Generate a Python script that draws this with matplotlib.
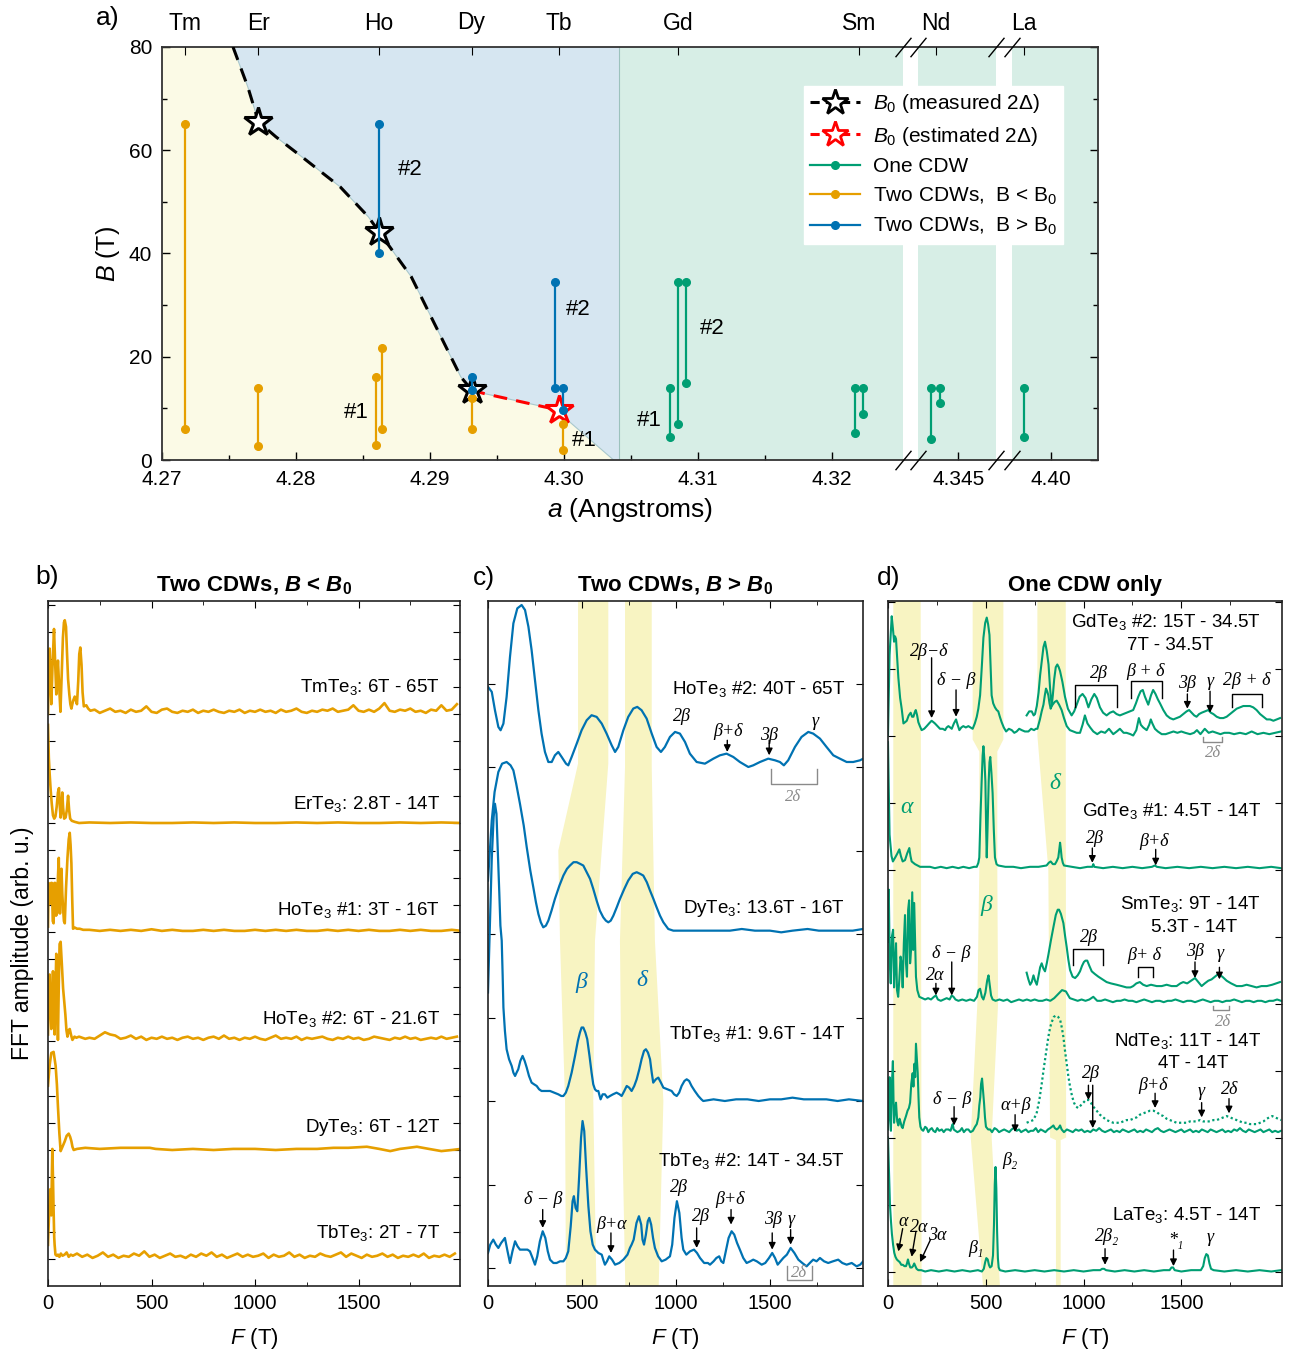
import numpy as np
import matplotlib.pyplot as plt
import matplotlib.transforms as mtransforms
from matplotlib.lines import Line2D
from matplotlib.patches import Polygon

plt.rcParams['font.family'] = ['Liberation Sans', 'DejaVu Sans']
plt.rcParams['mathtext.fontset'] = 'custom'
plt.rcParams['mathtext.rm'] = 'Liberation Sans'
plt.rcParams['mathtext.it'] = 'Liberation Sans:italic'
plt.rcParams['mathtext.bf'] = 'Liberation Sans:bold'
plt.rcParams['mathtext.bfit'] = 'Liberation Sans:italic:bold'

W, H = 1294, 1357
ORANGE = "#E69F00"
BLUE = "#0072B2"
GREEN = "#009E73"
BAND = "#F8F4C2"
YEL_BG = "#FBFAE6"
BLUE_BG = "#D6E6F1"
GREEN_BG = "#D7EEE6"
GRAY = "#8a8a8a"
GREEK = dict(family=['Liberation Serif', 'DejaVu Serif'], style='italic')

# ---------------------------------------------------------------- panel a data
A_BREAK = [4.17, 4.27, 4.3253, 4.342, 4.3478, 4.3971, 4.4035, 4.5035]
U_BREAK = [-10.0, 0.0, 5.53, 5.642, 6.224, 6.343, 6.985, 16.985]
GAPS = [(4.3253, 4.342), (4.3478, 4.3971)]

BOUND_A = [4.2753, 4.2758, 4.2764, 4.2772, 4.2785, 4.2806, 4.2833, 4.2854, 4.2862, 4.2868,
           4.2886, 4.2902, 4.2923, 4.2931, 4.2940, 4.2985, 4.2996, 4.3001, 4.3037]
BOUND_B = [80, 76.5, 72.3, 65.5, 62.6, 58.4, 52.9, 47.1, 44.2, 42.0,
           35.5, 27.1, 16.1, 13.6, 12.9, 10.3, 9.7, 8.1, 0]
ONE_CDW_EDGE = 4.3041

MEAS_STAR_A = [4.2772, 4.2862, 4.2931]
MEAS_STAR_B = [65.5, 44.2, 13.6]
EST_STAR_A = [4.2996]
EST_STAR_B = [9.7]

ORANGE_A = [4.2717, 4.2772, 4.2860, 4.2864, 4.2931, 4.2999]
ORANGE_LO = [6, 2.8, 3, 6, 6, 2]
ORANGE_HI = [65, 14, 16, 21.6, 12, 7]
BLUE_A = [4.2862, 4.2931, 4.2993, 4.2999]
BLUE_LO = [40, 13.6, 14, 9.6]
BLUE_HI = [65, 16, 34.5, 14]
GREEN_A = [4.3079, 4.3085, 4.3091, 4.3217, 4.3223, 4.3430, 4.3436, 4.3980]
GREEN_LO = [4.5, 7, 15, 5.3, 9, 4, 11, 4.5]
GREEN_HI = [14, 34.5, 34.5, 14, 14, 14, 14, 14]

SAMPLE_TXT = ["#2", "#1", "#2", "#1", "#2", "#1"]
SAMPLE_A = [4.2885, 4.2845, 4.3011, 4.3015, 4.3111, 4.3064]
SAMPLE_B = [56.2, 9.2, 29.1, 3.7, 25.5, 7.7]

ELEM_NAMES = ["Tm", "Er", "Ho", "Dy", "Tb", "Gd", "Sm", "Nd", "La"]
ELEM_A = [4.27175, 4.2772, 4.2862, 4.2931, 4.2996, 4.3085, 4.3220, 4.3433, 4.3980]
XTICKS_A = [4.27, 4.28, 4.29, 4.30, 4.31, 4.32, 4.345, 4.40]
XTICKLABELS_A = ["4.27", "4.28", "4.29", "4.30", "4.31", "4.32", "4.345", "4.40"]
XMINOR_A = [4.275, 4.285, 4.295, 4.305, 4.315]


def tail(start, step, vals):
    return [(start + step * i, v) for i, v in enumerate(vals)]


# ---------------------------------------------------------------- panel b data
TM_B = [(0, 0.0), (3, 0.30), (8, 0.60), (12, 0.35), (16, 0.09), (22, 0.45), (29, 0.78), (34, 0.50),
        (40, 0.18), (44, 0.35), (48, 0.49), (54, 0.25), (60, 0.02), (66, 0.35), (72, 0.70), (77, 0.84),
        (81, 0.86), (87, 0.80), (92, 0.55), (97, 0.32), (103, 0.18), (108, 0.09), (113, 0.05), (121, 0.12),
        (129, 0.16), (135, 0.12), (140, 0.09), (146, 0.30), (151, 0.55), (156, 0.61), (162, 0.45),
        (167, 0.20), (173, 0.07), (185, 0.08), (194, 0.05), (205, 0.03)] + tail(225, 25, [
    0.04, 0.01, 0.03, 0.05, 0.02, 0.03, 0.01, 0.04, 0.02, 0.03,
    0.07, 0.02, 0.01, 0.04, 0.05, 0.02, 0.01, 0.03, 0.02, 0.04,
    0.01, 0.03, 0.02, 0.04, 0.02, 0.01, 0.03, 0.02, 0.04, 0.01,
    0.03, 0.02, 0.04, 0.02, 0.03, 0.01, 0.04, 0.02, 0.03, 0.05,
    0.02, 0.01, 0.03, 0.02, 0.04, 0.03, 0.05, 0.02, 0.03, 0.04,
    0.08, 0.03, 0.02, 0.04, 0.02, 0.05, 0.10, 0.03, 0.02, 0.04,
    0.03, 0.05, 0.02, 0.03, 0.01, 0.04, 0.03, 0.08, 0.03, 0.04, 0.09])
ER_B = [(0, 0.90), (4, 0.60), (8, 0.45), (13, 0.30), (18, 0.18), (24, 0.07), (30, 0.04), (36, 0.06),
        (42, 0.15), (48, 0.28), (53, 0.32), (57, 0.15), (61, 0.05), (65, 0.12), (69, 0.28), (73, 0.14),
        (78, 0.04), (85, 0.05), (91, 0.12), (97, 0.25), (102, 0.12), (107, 0.04), (115, 0.02),
        (130, 0.01), (150, 0.0)] + tail(200, 100, [
    0.005, 0.0, 0.005, 0.0, 0.0, 0.005, 0.0, 0.005, 0.0, 0.0,
    0.005, 0.0, 0.005, 0.0, 0.0, 0.005, 0.0, 0.005, 0.0])
HO1_B = [(0, 0.05), (3, 0.45), (7, 0.30), (11, 0.26), (15, 0.45), (19, 0.45), (23, 0.10), (27, 0.08),
         (31, 0.45), (35, 0.45), (39, 0.15), (44, 0.17), (48, 0.50), (52, 0.68), (55, 0.30), (58, 0.17),
         (62, 0.45), (65, 0.58), (69, 0.35), (73, 0.21), (77, 0.10), (81, 0.08), (87, 0.40), (94, 0.68),
         (100, 0.85), (105, 0.91), (109, 0.80), (113, 0.63), (117, 0.30), (121, 0.03), (130, 0.04),
         (140, 0.03), (153, 0.03), (170, 0.02)] + tail(200, 50, [
    0.02, 0.01, 0.02, 0.01, 0.02, 0.01, 0.025, 0.01, 0.02, 0.01,
    0.01, 0.02, 0.01, 0.02, 0.01, 0.01, 0.02, 0.01, 0.02, 0.01,
    0.02, 0.01, 0.01, 0.02, 0.01, 0.02, 0.01, 0.02, 0.01, 0.01,
    0.02, 0.01, 0.02, 0.01, 0.01, 0.02, 0.01])
HO2_B = [(0, 0.06), (4, 0.40), (8, 0.61), (12, 0.35), (16, 0.11), (20, 0.40), (24, 0.64), (28, 0.35),
         (32, 0.06), (36, 0.45), (40, 0.80), (44, 0.40), (48, 0.01), (52, 0.50), (56, 0.89), (61, 0.91),
         (67, 0.70), (73, 0.48), (79, 0.35), (84, 0.24), (89, 0.10), (94, 0.04), (100, 0.10), (105, 0.11),
         (112, 0.05), (118, 0.01), (128, 0.04), (137, 0.03), (150, 0.04), (165, 0.03), (180, 0.02)] + tail(200, 25, [
    0.03, 0.02, 0.05, 0.08, 0.06, 0.05, 0.02, 0.03, 0.05, 0.02,
    0.04, 0.01, 0.03, 0.02, 0.04, 0.02, 0.03, 0.01, 0.03, 0.04,
    0.02, 0.03, 0.01, 0.03, 0.04, 0.02, 0.05, 0.02, 0.03, 0.01,
    0.03, 0.02, 0.04, 0.02, 0.01, 0.03, 0.05, 0.02, 0.03, 0.02,
    0.04, 0.01, 0.03, 0.02, 0.03, 0.04, 0.02, 0.01, 0.03, 0.02,
    0.04, 0.02, 0.03, 0.01, 0.02, 0.04, 0.03, 0.02, 0.01, 0.03,
    0.02, 0.04, 0.02, 0.03, 0.01, 0.02, 0.03, 0.02, 0.04, 0.02,
    0.03, 0.04])
DY_B = [(0, 0.59), (8, 0.78), (16, 0.89), (27, 0.90), (37, 0.77), (43, 0.60), (48, 0.40), (55, 0.15),
        (61, -0.01), (70, 0.03), (81, 0.08), (90, 0.13), (100, 0.15), (107, 0.12), (113, 0.08),
        (118, 0.03), (124, 0.0), (140, 0.01), (180, 0.02), (250, 0.01), (350, 0.02), (492, 0.02),
        (520, 0.01), (600, 0.0), (700, 0.01), (800, 0.0), (895, 0.01), (1000, 0.01), (1100, 0.0),
        (1200, 0.01), (1300, 0.01), (1379, 0.02), (1450, 0.02), (1540, 0.03), (1600, 0.01),
        (1653, -0.01), (1700, 0.01), (1782, 0.03), (1840, 0.01), (1900, -0.01), (1950, 0.0), (1995, 0.01)]
TB_B = [(0, 0.13), (3, 0.30), (5, 0.40), (8, 0.55), (11, 0.64), (14, 0.45), (16, 0.40), (19, 0.80),
        (21, 1.01), (24, 0.75), (27, 0.45), (30, 0.20), (32, 0.13), (36, 0.04), (42, 0.03), (48, 0.04),
        (55, 0.02), (62, 0.05), (70, 0.03), (80, 0.04), (90, 0.06), (100, 0.02), (110, 0.04),
        (120, 0.03)] + tail(140, 25, [
    0.05, 0.02, 0.04, 0.01, 0.03, 0.06, 0.02, 0.04, 0.01, 0.03,
    0.02, 0.05, 0.03, 0.07, 0.02, 0.04, 0.01, 0.03, 0.05, 0.02,
    0.03, 0.01, 0.04, 0.02, 0.05, 0.03, 0.06, 0.02, 0.04, 0.01,
    0.03, 0.05, 0.02, 0.04, 0.02, 0.03, 0.05, 0.01, 0.04, 0.02,
    0.03, 0.06, 0.02, 0.04, 0.01, 0.03, 0.02, 0.05, 0.03, 0.02,
    0.04, 0.06, 0.02, 0.05, 0.03, 0.01, 0.04, 0.02, 0.03, 0.05,
    0.02, 0.04, 0.01, 0.03, 0.02, 0.04, 0.02, 0.05, 0.01, 0.03,
    0.02, 0.04, 0.02, 0.05])
B_TRACES = [TM_B, ER_B, HO1_B, HO2_B, DY_B, TB_B]
B_OFFSETS = [5, 4, 3, 2, 1, 0]
B_LABELS = ["TmTe$_3$: 6T - 65T", "ErTe$_3$: 2.8T - 14T", "HoTe$_3$ #1: 3T - 16T",
            "HoTe$_3$ #2: 6T - 21.6T", "DyTe$_3$: 6T - 12T", "TbTe$_3$: 2T - 7T"]
B_LABEL_Y = [5.25, 4.17, 3.20, 2.20, 1.21, 0.24]

# ---------------------------------------------------------------- panel c data
HO2_C = [(0, 0.48), (20, 0.45), (37, 0.34), (55, 0.24), (67, 0.22), (82, 0.26), (99, 0.42), (117, 0.66),
         (135, 0.86), (156, 0.95), (179, 0.97), (197, 0.94), (215, 0.84), (232, 0.70), (250, 0.52),
         (268, 0.34), (285, 0.20), (303, 0.09), (321, 0.03), (339, 0.03), (356, 0.07), (374, 0.09),
         (392, 0.06), (415, 0.02), (427, 0.01), (445, 0.06), (472, 0.14), (498, 0.22), (525, 0.28),
         (551, 0.31), (578, 0.30), (605, 0.26), (631, 0.20), (658, 0.13), (676, 0.09), (693, 0.12),
         (720, 0.22), (746, 0.30), (773, 0.35), (794, 0.36), (817, 0.34), (844, 0.29), (871, 0.20),
         (897, 0.12), (920, 0.09), (941, 0.12), (968, 0.18), (995, 0.21), (1021, 0.20), (1048, 0.15),
         (1074, 0.08), (1110, 0.03), (1154, 0.02), (1199, 0.05), (1234, 0.07), (1269, 0.08), (1305, 0.06),
         (1340, 0.03), (1385, 0.0), (1411, 0.01), (1447, 0.03), (1491, 0.05), (1527, 0.04), (1553, 0.03),
         (1574, 0.01), (1597, 0.04), (1633, 0.12), (1668, 0.18), (1704, 0.21), (1730, 0.20), (1766, 0.17),
         (1801, 0.12), (1837, 0.07), (1872, 0.05), (1908, 0.03), (1943, 0.03), (1979, 0.04), (1996, 0.05)]
DY_C = [(0, 0.32), (10, 0.50), (20, 0.68), (35, 0.85), (55, 0.97), (75, 1.02), (99, 1.03), (120, 1.01),
        (135, 0.98), (150, 0.90), (170, 0.78), (190, 0.65), (206, 0.52), (225, 0.38), (241, 0.28),
        (255, 0.19), (268, 0.12), (281, 0.07), (294, 0.04), (308, 0.05), (321, 0.08), (338, 0.14),
        (356, 0.21), (380, 0.29), (401, 0.35), (420, 0.39), (436, 0.41), (455, 0.43), (472, 0.43),
        (490, 0.42), (507, 0.41), (525, 0.37), (543, 0.33), (560, 0.27), (578, 0.20), (595, 0.14),
        (613, 0.10), (627, 0.08), (640, 0.07), (653, 0.08), (667, 0.11), (685, 0.16), (702, 0.21),
        (725, 0.27), (746, 0.32), (770, 0.36), (791, 0.37), (810, 0.36), (826, 0.35), (845, 0.31),
        (862, 0.26), (880, 0.21), (897, 0.16), (915, 0.11), (933, 0.07), (959, 0.03), (986, 0.02),
        (1050, 0.02), (1110, 0.02), (1200, 0.02), (1287, 0.02), (1350, 0.03), (1420, 0.02), (1500, 0.02),
        (1560, 0.01), (1620, 0.02), (1700, 0.03), (1760, 0.02), (1820, 0.02), (1880, 0.02), (1940, 0.02),
        (1995, 0.03)]
TB1_C = [(0, 0.65), (10, 1.05), (20, 1.45), (30, 1.70), (37, 1.78), (45, 1.72), (52, 1.50), (60, 1.25),
         (66, 1.05), (73, 0.96), (78, 0.75), (82, 0.56), (90, 0.42), (99, 0.31), (112, 0.25), (126, 0.21),
         (135, 0.17), (144, 0.15), (152, 0.17), (161, 0.19), (172, 0.24), (184, 0.27), (195, 0.24),
         (206, 0.20), (218, 0.15), (232, 0.11), (245, 0.10), (259, 0.09), (272, 0.07), (285, 0.06),
         (310, 0.06), (330, 0.06), (352, 0.05), (374, 0.04), (390, 0.03), (401, 0.03), (414, 0.05),
         (427, 0.09), (445, 0.17), (463, 0.27), (478, 0.36), (489, 0.41), (498, 0.44), (507, 0.44),
         (518, 0.41), (528, 0.37), (540, 0.27), (551, 0.17), (560, 0.10), (569, 0.07), (578, 0.06),
         (587, 0.06), (594, 0.03), (599, 0.01), (610, 0.04), (622, 0.04), (635, 0.02), (649, 0.03),
         (665, 0.04), (684, 0.05), (700, 0.04), (711, 0.03), (725, 0.06), (738, 0.09), (751, 0.08),
         (764, 0.06), (778, 0.09), (791, 0.13), (805, 0.19), (817, 0.25), (830, 0.30), (840, 0.31),
         (851, 0.29), (862, 0.25), (871, 0.17), (879, 0.11), (893, 0.13), (906, 0.14), (920, 0.11),
         (933, 0.08), (955, 0.07), (977, 0.06), (990, 0.04), (1004, 0.03), (1017, 0.05), (1030, 0.09),
         (1045, 0.12), (1057, 0.13), (1070, 0.12), (1083, 0.09), (1100, 0.06), (1119, 0.03), (1135, 0.01),
         (1145, 0.0), (1200, 0.01), (1260, 0.0), (1320, 0.01), (1380, 0.01), (1440, 0.0), (1500, 0.01),
         (1560, 0.01), (1620, 0.02), (1680, 0.01), (1740, 0.01), (1800, 0.01), (1860, 0.0), (1920, 0.01),
         (1995, 0.0)]
TB2_C = [(0, 0.09), (12, 0.14), (28, 0.17), (42, 0.14), (55, 0.12), (70, 0.15), (90, 0.18), (104, 0.10),
         (117, 0.03), (130, 0.10), (144, 0.16), (157, 0.13), (170, 0.11), (195, 0.11), (210, 0.11),
         (223, 0.10), (237, 0.06), (250, 0.02), (262, 0.07), (276, 0.16), (291, 0.22), (305, 0.18),
         (318, 0.10), (330, 0.05), (348, 0.03), (365, 0.03), (383, 0.04), (401, 0.04), (414, 0.06),
         (427, 0.10), (440, 0.25), (450, 0.40), (457, 0.43), (466, 0.36), (475, 0.34), (485, 0.55),
         (495, 0.78), (503, 0.88), (512, 0.82), (522, 0.60), (534, 0.37), (545, 0.22), (557, 0.14),
         (569, 0.11), (587, 0.09), (605, 0.08), (613, 0.05), (622, 0.02), (633, 0.04), (645, 0.07),
         (660, 0.05), (676, 0.02), (698, 0.03), (720, 0.05), (742, 0.08), (755, 0.12), (764, 0.14),
         (775, 0.17), (790, 0.27), (803, 0.31), (815, 0.26), (822, 0.17), (830, 0.14), (840, 0.20),
         (850, 0.28), (858, 0.30), (868, 0.26), (878, 0.18), (888, 0.12), (905, 0.07), (924, 0.04),
         (945, 0.05), (968, 0.07), (980, 0.14), (992, 0.30), (1005, 0.40), (1018, 0.33), (1030, 0.18),
         (1039, 0.11), (1055, 0.08), (1075, 0.10), (1096, 0.11), (1112, 0.09), (1128, 0.06), (1150, 0.03),
         (1170, 0.03), (1181, 0.02), (1200, 0.04), (1215, 0.06), (1230, 0.07), (1241, 0.04), (1252, 0.03),
         (1265, 0.10), (1280, 0.18), (1296, 0.22), (1310, 0.20), (1325, 0.15), (1340, 0.11), (1358, 0.06),
         (1376, 0.03), (1395, 0.04), (1411, 0.05), (1430, 0.04), (1456, 0.02), (1475, 0.03), (1495, 0.06),
         (1512, 0.09), (1527, 0.06), (1541, 0.02), (1556, 0.04), (1571, 0.06), (1590, 0.08), (1610, 0.12),
         (1630, 0.09), (1651, 0.05), (1672, 0.03), (1695, 0.01), (1712, 0.03), (1730, 0.05), (1748, 0.04),
         (1766, 0.06), (1788, 0.04), (1810, 0.03), (1835, 0.04), (1863, 0.05), (1885, 0.03), (1908, 0.02),
         (1935, 0.03), (1961, 0.01), (1980, 0.02), (1996, 0.04)]
C_TRACES = [HO2_C, DY_C, TB1_C, TB2_C]
C_OFFSETS = [3, 2, 1, 0]
C_LABELS = ["HoTe$_3$ #2: 40T - 65T", "DyTe$_3$: 13.6T - 16T", "TbTe$_3$ #1: 9.6T - 14T",
            "TbTe$_3$ #2: 14T - 34.5T"]
C_LABEL_Y = [3.47, 2.15, 1.40, 0.64]
C_BETA_BAND = [(479, 4.05), (479, 3.02), (374, 2.5), (383, 1.96), (410, 1.0), (415, -0.2),
               (578, -0.2), (560, 1.0), (569, 1.96), (640, 3.02), (640, 4.05)]
C_DELTA_BAND = [(729, 4.05), (729, 3.0), (702, 1.96), (711, 1.0), (732, -0.2),
                (906, -0.2), (933, 1.0), (888, 1.96), (871, 3.0), (871, 4.05)]
C_BIG = [("β", 495, 1.71), ("δ", 817, 1.72)]
C_NOTES = [("2β", 1030, 3.30), ("β+δ", 1278, 3.21), ("3β", 1496, 3.19), ("γ", 1739, 3.27),
           ("δ − β", 294, 0.41), ("β+α", 658, 0.26), ("2β", 1016, 0.48), ("2β", 1131, 0.31),
           ("β+δ", 1287, 0.41), ("3β", 1518, 0.29), ("γ", 1615, 0.29)]
C_ARROWS = [(1273, 3.16, 1273, 3.09), (1496, 3.16, 1496, 3.07), (291, 0.35, 291, 0.24),
            (654, 0.21, 654, 0.09), (1110, 0.24, 1110, 0.12), (1293, 0.35, 1293, 0.26),
            (1512, 0.21, 1512, 0.11), (1610, 0.23, 1610, 0.14)]
C_GRAY_BRACKETS = [(1505, 1748, 2.90, 2.99), (1589, 1725, -0.07, 0.01)]
C_GRAY_NOTES = [("2δ", 1624, 2.82), ("2δ", 1656, -0.03)]

# ---------------------------------------------------------------- panel d data
GD2_D = [(0, 0.0), (8, 0.60), (19, 0.89), (25, 0.80), (31, 0.70), (36, 0.74), (41, 0.72), (47, 0.58),
         (53, 0.43), (62, 0.28), (70, 0.20), (79, 0.09), (88, 0.10), (96, 0.11), (106, 0.15), (116, 0.17),
         (123, 0.14), (130, 0.14), (136, 0.17), (142, 0.19), (149, 0.15), (155, 0.10), (163, 0.07),
         (172, 0.04), (185, 0.05), (198, 0.07), (210, 0.09), (223, 0.11), (232, 0.10), (240, 0.09),
         (253, 0.07), (266, 0.05), (280, 0.05), (292, 0.04), (300, 0.06), (309, 0.07), (318, 0.06),
         (326, 0.05), (337, 0.09), (348, 0.12), (356, 0.08), (365, 0.04), (375, 0.06), (385, 0.07),
         (398, 0.06), (411, 0.07), (422, 0.06), (433, 0.05), (444, 0.09), (454, 0.14), (462, 0.20),
         (471, 0.30), (480, 0.52), (488, 0.73), (497, 0.84), (505, 0.88), (512, 0.83), (519, 0.75),
         (525, 0.50), (530, 0.30), (538, 0.24), (547, 0.21), (556, 0.19), (564, 0.18), (572, 0.14),
         (581, 0.10), (592, 0.06), (604, 0.03), (618, 0.05), (633, 0.04), (646, 0.02), (658, 0.03),
         (671, 0.05), (684, 0.04), (700, 0.03), (718, 0.03), (732, 0.05), (747, 0.04), (756, 0.05),
         (764, 0.05), (777, 0.12), (786, 0.18), (795, 0.23), (802, 0.30), (808, 0.35), (814, 0.33),
         (820, 0.30), (826, 0.24), (832, 0.20), (837, 0.22), (842, 0.23), (852, 0.25), (863, 0.26),
         (875, 0.23), (888, 0.19), (900, 0.13), (914, 0.07), (930, 0.04), (948, 0.03), (965, 0.02),
         (982, 0.02), (995, 0.08), (1007, 0.15), (1020, 0.09), (1034, 0.06), (1050, 0.03), (1070, 0.01),
         (1090, 0.03), (1110, 0.02), (1130, 0.05), (1152, 0.01), (1170, 0.03), (1186, 0.05), (1205, 0.02),
         (1220, 0.02), (1240, 0.01), (1254, 0.0), (1270, 0.04), (1283, 0.13), (1293, 0.08), (1305, 0.06),
         (1323, 0.04), (1336, 0.08), (1344, 0.12), (1352, 0.09), (1365, 0.05), (1380, 0.03), (1400, 0.01),
         (1420, 0.01), (1440, 0.02), (1460, 0.03), (1480, 0.02), (1500, 0.03), (1520, 0.02), (1545, 0.01),
         (1565, 0.02), (1580, 0.04), (1598, 0.01), (1620, 0.05), (1640, 0.02), (1660, 0.03), (1680, 0.02),
         (1700, 0.01), (1720, 0.02), (1745, 0.02), (1770, 0.01), (1800, 0.02), (1830, 0.01), (1860, 0.03),
         (1890, 0.01), (1920, 0.02), (1950, 0.01), (1980, 0.02), (2010, 0.03)]
GD2_HI_D = [(709, 0.15), (722, 0.18), (735, 0.18), (745, 0.15), (752, 0.16), (761, 0.22), (770, 0.32),
            (778, 0.45), (786, 0.55), (795, 0.66), (803, 0.70), (812, 0.63), (821, 0.53), (829, 0.35),
            (837, 0.22), (843, 0.30), (850, 0.42), (858, 0.51), (866, 0.53), (873, 0.51), (880, 0.48),
            (892, 0.40), (905, 0.29), (920, 0.20), (939, 0.15), (952, 0.18), (965, 0.23), (980, 0.29),
            (995, 0.31), (1010, 0.28), (1025, 0.21), (1040, 0.27), (1055, 0.31), (1068, 0.28), (1084, 0.21),
            (1100, 0.17), (1118, 0.15), (1135, 0.17), (1152, 0.18), (1169, 0.16), (1186, 0.15), (1203, 0.16),
            (1220, 0.17), (1237, 0.18), (1254, 0.19), (1268, 0.24), (1280, 0.29), (1292, 0.33), (1303, 0.34),
            (1314, 0.29), (1331, 0.23), (1345, 0.30), (1356, 0.34), (1368, 0.31), (1380, 0.27), (1391, 0.24),
            (1408, 0.19), (1425, 0.15), (1442, 0.13), (1459, 0.12), (1476, 0.13), (1493, 0.14), (1510, 0.16),
            (1527, 0.18), (1540, 0.19), (1553, 0.17), (1566, 0.15), (1578, 0.14), (1591, 0.16), (1604, 0.17),
            (1621, 0.18), (1638, 0.19), (1651, 0.17), (1664, 0.16), (1681, 0.14), (1698, 0.13), (1715, 0.13),
            (1732, 0.14), (1749, 0.16), (1766, 0.18), (1783, 0.20), (1800, 0.21), (1817, 0.22), (1834, 0.22),
            (1851, 0.22), (1868, 0.21), (1885, 0.19), (1903, 0.16), (1920, 0.14), (1937, 0.12), (1954, 0.12),
            (1971, 0.11), (1988, 0.12), (2005, 0.13)]
GD1_D = [(0, 0.95), (4, 0.60), (8, 0.26), (11, 0.21), (18, 0.10), (25, 0.06), (37, 0.09), (48, 0.12),
         (58, 0.15), (66, 0.10), (75, 0.06), (87, 0.07), (98, 0.12), (109, 0.16), (115, 0.10), (121, 0.06),
         (138, 0.04), (164, 0.02), (190, 0.02), (215, 0.02), (240, 0.01), (270, 0.02), (300, 0.01),
         (330, 0.02), (360, 0.01), (385, 0.02), (415, 0.01), (440, 0.02), (454, 0.02), (462, 0.05),
         (467, 0.09), (473, 0.40), (479, 0.66), (484, 0.85), (488, 0.92), (493, 0.82), (498, 0.66),
         (502, 0.30), (505, 0.09), (509, 0.30), (515, 0.66), (519, 0.80), (523, 0.84), (529, 0.72),
         (535, 0.57), (541, 0.30), (547, 0.09), (555, 0.04), (564, 0.03), (600, 0.02), (641, 0.02),
         (680, 0.01), (726, 0.02), (770, 0.02), (811, 0.03), (822, 0.05), (832, 0.06), (843, 0.04),
         (854, 0.04), (862, 0.06), (871, 0.09), (876, 0.15), (880, 0.20), (884, 0.15), (888, 0.09),
         (894, 0.05), (900, 0.03), (940, 0.02), (982, 0.01), (1020, 0.02), (1045, 0.02), (1050, 0.04),
         (1055, 0.02), (1100, 0.01), (1150, 0.02), (1200, 0.01), (1250, 0.02), (1300, 0.01), (1350, 0.02),
         (1365, 0.03), (1375, 0.02), (1420, 0.01), (1480, 0.02), (1540, 0.01), (1600, 0.02), (1660, 0.01),
         (1720, 0.02), (1780, 0.01), (1840, 0.02), (1900, 0.01), (1960, 0.02), (2010, 0.01)]
SM_D = [(0, 0.46), (4, 0.85), (9, 0.30), (14, 0.15), (20, 0.50), (26, 0.55), (31, 0.12), (36, 0.30),
        (41, 0.45), (46, 0.10), (52, 0.05), (58, 0.18), (64, 0.35), (70, 0.30), (75, 0.12), (81, 0.45),
        (87, 0.66), (92, 0.30), (97, 0.20), (103, 0.70), (108, 0.77), (113, 0.30), (118, 0.40), (124, 0.83),
        (129, 0.40), (134, 0.75), (138, 0.50), (143, 0.20), (150, 0.10), (160, 0.05), (175, 0.04),
        (190, 0.03), (205, 0.04), (220, 0.03), (235, 0.05), (245, 0.06), (255, 0.03), (270, 0.02),
        (285, 0.03), (300, 0.04), (315, 0.03), (326, 0.06), (335, 0.05), (345, 0.03), (360, 0.02),
        (380, 0.03), (400, 0.02), (420, 0.03), (440, 0.02), (455, 0.05), (463, 0.10), (471, 0.11),
        (480, 0.05), (488, 0.03), (498, 0.08), (507, 0.17), (514, 0.21), (520, 0.14), (527, 0.06),
        (535, 0.03)] + tail(550, 20, [
    0.02, 0.03, 0.02, 0.03, 0.01, 0.02, 0.03, 0.02, 0.03, 0.02,
    0.03, 0.02, 0.02, 0.03, 0.02, 0.04, 0.07, 0.10, 0.09, 0.04,
    0.03, 0.02, 0.03, 0.02, 0.03, 0.05, 0.02, 0.02, 0.03, 0.02,
    0.01, 0.02, 0.02, 0.03, 0.02, 0.02, 0.01, 0.02, 0.03, 0.02,
    0.01, 0.02, 0.02, 0.01, 0.02, 0.02, 0.03, 0.02, 0.01, 0.02,
    0.02, 0.01, 0.02, 0.03, 0.02, 0.01, 0.02, 0.02, 0.01, 0.02,
    0.02, 0.03, 0.02, 0.01, 0.02, 0.02, 0.01, 0.02, 0.02, 0.01,
    0.02, 0.02, 0.03, 0.02])
SM_HI_D = [(709, 0.23), (718, 0.18), (727, 0.14), (735, 0.16), (744, 0.21), (752, 0.17), (761, 0.14),
           (769, 0.20), (778, 0.27), (786, 0.30), (795, 0.26), (803, 0.24), (812, 0.30), (821, 0.37),
           (833, 0.47), (846, 0.57), (858, 0.66), (868, 0.70), (875, 0.70), (884, 0.67), (897, 0.60),
           (906, 0.50), (914, 0.42), (922, 0.33), (931, 0.25), (944, 0.20), (957, 0.19), (970, 0.21),
           (982, 0.24), (992, 0.28), (1002, 0.31), (1010, 0.32), (1019, 0.32), (1030, 0.28), (1042, 0.24),
           (1058, 0.22), (1076, 0.20), (1097, 0.18), (1118, 0.16), (1140, 0.15), (1169, 0.14), (1195, 0.13),
           (1220, 0.12), (1240, 0.12), (1254, 0.13), (1270, 0.15), (1288, 0.16), (1305, 0.14), (1323, 0.13),
           (1345, 0.14), (1374, 0.13), (1400, 0.13), (1425, 0.14), (1450, 0.13), (1476, 0.13), (1495, 0.15),
           (1510, 0.16), (1530, 0.15), (1550, 0.17), (1570, 0.19), (1587, 0.16), (1604, 0.13), (1620, 0.15),
           (1638, 0.17), (1655, 0.18), (1672, 0.20), (1689, 0.22), (1710, 0.20), (1732, 0.17), (1755, 0.15),
           (1783, 0.13), (1810, 0.13), (1834, 0.14), (1860, 0.13), (1885, 0.12), (1910, 0.13), (1937, 0.13),
           (1965, 0.14), (1985, 0.15), (2005, 0.16)]
ND_D = [(0, 0.06), (4, 0.30), (8, 0.45), (11, 0.15), (15, 0.05), (20, 0.40), (25, 0.57), (28, 0.30),
        (31, 0.11), (36, 0.20), (41, 0.26), (47, 0.12), (53, 0.09), (59, 0.14), (65, 0.11), (70, 0.08),
        (75, 0.07), (83, 0.12), (92, 0.16), (100, 0.20), (107, 0.22), (113, 0.26), (119, 0.40), (126, 0.48),
        (130, 0.38), (135, 0.55), (139, 0.45), (143, 0.70), (147, 0.60), (152, 0.48), (156, 0.30),
        (160, 0.15), (166, 0.08), (172, 0.06), (180, 0.05), (190, 0.08), (198, 0.07), (206, 0.04),
        (215, 0.06), (224, 0.07), (232, 0.05), (242, 0.04), (252, 0.07), (262, 0.05), (275, 0.06),
        (285, 0.04), (296, 0.06), (309, 0.06), (320, 0.05), (326, 0.08), (331, 0.10), (336, 0.06),
        (345, 0.05), (355, 0.04), (368, 0.05), (378, 0.07), (388, 0.04), (400, 0.06), (411, 0.06),
        (422, 0.04), (434, 0.05), (445, 0.08), (454, 0.10), (462, 0.15), (467, 0.24), (472, 0.30),
        (476, 0.40), (481, 0.44), (486, 0.35), (491, 0.26), (496, 0.15), (501, 0.08), (512, 0.06),
        (522, 0.06), (532, 0.04), (545, 0.07), (556, 0.06), (568, 0.04), (580, 0.05), (594, 0.06),
        (607, 0.05), (620, 0.04), (632, 0.06), (643, 0.07), (650, 0.08), (658, 0.05), (670, 0.06),
        (681, 0.04), (692, 0.05), (705, 0.06), (718, 0.04), (730, 0.05), (743, 0.05), (756, 0.07),
        (768, 0.04), (781, 0.06), (794, 0.05), (805, 0.04), (818, 0.06), (829, 0.07), (838, 0.08),
        (846, 0.09), (853, 0.07), (863, 0.06), (872, 0.07), (880, 0.09), (888, 0.06)] + tail(900, 15, [
    0.04, 0.06, 0.05, 0.04, 0.06, 0.05, 0.06, 0.04, 0.05, 0.04,
    0.06, 0.05, 0.07, 0.05, 0.04, 0.05, 0.06, 0.04, 0.05, 0.04,
    0.06, 0.05, 0.04, 0.05, 0.06, 0.04, 0.05, 0.04, 0.06, 0.05,
    0.04, 0.06, 0.07, 0.05, 0.04, 0.05, 0.06, 0.05, 0.04, 0.05,
    0.06, 0.04, 0.05, 0.06, 0.04, 0.05, 0.04, 0.06, 0.05, 0.04,
    0.06, 0.05, 0.04, 0.05, 0.06, 0.04, 0.05, 0.04, 0.06, 0.05,
    0.07, 0.05, 0.04, 0.06, 0.05, 0.04, 0.05, 0.06, 0.04, 0.05,
    0.06, 0.04, 0.05, 0.04, 0.05])
ND_DOT_D = [(709, 0.11), (743, 0.13), (760, 0.18), (774, 0.28), (786, 0.40), (798, 0.53), (810, 0.65),
            (820, 0.75), (829, 0.82), (837, 0.86), (848, 0.90), (859, 0.91), (870, 0.90), (880, 0.88),
            (889, 0.82), (897, 0.75), (905, 0.65), (914, 0.55), (922, 0.46), (931, 0.38), (941, 0.31),
            (951, 0.26), (962, 0.23), (973, 0.22), (986, 0.24), (999, 0.26), (1012, 0.28), (1025, 0.28),
            (1037, 0.26), (1050, 0.23), (1067, 0.20), (1084, 0.17), (1101, 0.15), (1118, 0.13), (1135, 0.12),
            (1152, 0.11), (1169, 0.11), (1186, 0.11), (1203, 0.12), (1220, 0.13), (1237, 0.13), (1254, 0.14),
            (1271, 0.15), (1288, 0.17), (1305, 0.18), (1323, 0.19), (1340, 0.20), (1357, 0.20), (1374, 0.19),
            (1391, 0.17), (1408, 0.16), (1425, 0.14), (1442, 0.13), (1459, 0.12), (1476, 0.11), (1493, 0.11),
            (1510, 0.11), (1527, 0.11), (1544, 0.12), (1561, 0.12), (1578, 0.12), (1595, 0.13), (1612, 0.12),
            (1630, 0.12), (1647, 0.12), (1664, 0.13), (1681, 0.13), (1698, 0.14), (1715, 0.15), (1732, 0.16),
            (1749, 0.15), (1766, 0.14), (1783, 0.13), (1800, 0.12), (1817, 0.11), (1834, 0.11), (1851, 0.10),
            (1868, 0.10), (1885, 0.10), (1903, 0.11), (1920, 0.12), (1937, 0.14), (1950, 0.15), (1965, 0.16),
            (1980, 0.15), (1995, 0.14), (2010, 0.13)]
LA_D = [(0, 1.0), (3, 0.85), (6, 0.70), (10, 0.50), (15, 0.38), (20, 0.28), (26, 0.20), (32, 0.14),
        (38, 0.11), (45, 0.09), (52, 0.08), (60, 0.07), (68, 0.05), (76, 0.05), (84, 0.04), (92, 0.04),
        (97, 0.06), (102, 0.09), (107, 0.06), (114, 0.03), (122, 0.03), (128, 0.04), (134, 0.06),
        (140, 0.04), (146, 0.02), (155, 0.01), (170, 0.01), (190, 0.0), (220, 0.01), (260, 0.0),
        (300, 0.01), (340, 0.0), (380, 0.01), (420, 0.0), (460, 0.01), (480, 0.0), (490, 0.02),
        (497, 0.07), (503, 0.10), (510, 0.09), (516, 0.05), (522, 0.03), (530, 0.04), (537, 0.12),
        (542, 0.35), (546, 0.65), (550, 0.78), (554, 0.62), (558, 0.30), (562, 0.10), (566, 0.03),
        (572, 0.01), (600, 0.0), (650, 0.01), (700, 0.0), (750, 0.01), (800, 0.0), (850, 0.01),
        (900, 0.0), (950, 0.01), (1000, 0.0), (1050, 0.01), (1085, 0.01), (1095, 0.02), (1105, 0.02),
        (1115, 0.01), (1160, 0.0), (1210, 0.01), (1260, 0.0), (1310, 0.01), (1360, 0.0), (1410, 0.01),
        (1440, 0.01), (1450, 0.03), (1458, 0.03), (1466, 0.01), (1500, 0.0), (1550, 0.01), (1600, 0.01),
        (1612, 0.04), (1620, 0.10), (1628, 0.13), (1636, 0.12), (1644, 0.06), (1652, 0.02), (1665, 0.01),
        (1720, 0.0), (1780, 0.01), (1840, 0.0), (1900, 0.01), (1960, 0.0), (2010, 0.01)]
D_SOLID = [GD2_D, GD2_HI_D, GD1_D, SM_D, SM_HI_D, ND_D, LA_D]
D_SOLID_OFFSETS = [4, 4, 3, 2, 2, 1, 0]
D_LABELS = [("GdTe$_3$ #2: 15T - 34.5T", 1908, 4.85), ("7T - 34.5T", 1665, 4.67),
            ("GdTe$_3$ #1: 4.5T - 14T", 1908, 3.44), ("SmTe$_3$: 9T - 14T", 1908, 2.74),
            ("5.3T - 14T", 1785, 2.57), ("NdTe$_3$: 11T - 14T", 1908, 1.72),
            ("4T - 14T", 1739, 1.55), ("LaTe$_3$: 4.5T - 14T", 1908, 0.42)]
D_ALPHA_BAND = [(27, 5.1), (27, -0.2), (172, -0.2), (167, 5.1)]
D_BETA_BAND = [(433, 5.1), (433, 3.97), (467, 3.88), (467, 3.0), (457, 2.0), (423, 1.0), (491, -0.2),
               (576, -0.2), (530, 1.0), (563, 2.0), (559, 3.0), (559, 3.88), (590, 3.97), (590, 5.1)]
D_DELTA_BAND = [(764, 5.1), (764, 4.0), (820, 3.0), (829, 1.0), (859, 0.98), (859, -0.2),
                (883, -0.2), (883, 0.98), (911, 1.0), (909, 4.0), (909, 5.1)]
D_BIG = [("α", 96, 3.46), ("β", 505, 2.73), ("δ", 854, 3.64)]
D_NOTES = [("2β−δ", 211, 4.63), ("δ − β", 348, 4.41), ("2β", 1079, 4.46), ("β + δ", 1318, 4.48),
           ("3β", 1531, 4.39), ("γ", 1647, 4.40), ("2β + δ", 1835, 4.41),
           ("2β", 1059, 3.23), ("β+δ", 1361, 3.21),
           ("δ − β", 326, 2.37), ("2α", 240, 2.21), ("2β", 1030, 2.49), ("β+ δ", 1309, 2.36),
           ("3β", 1570, 2.39), ("γ", 1698, 2.37),
           ("δ − β", 331, 1.28), ("α+β", 655, 1.24), ("2β", 1037, 1.48), ("β+δ", 1354, 1.39),
           ("γ", 1604, 1.34), ("2δ", 1746, 1.36),
           ("β₂", 621, 0.83), ("β₁", 450, 0.17), ("α", 78, 0.37), ("2α", 160, 0.33), ("3α", 252, 0.27),
           ("2β₂", 1119, 0.26), ("*₁", 1473, 0.23), ("γ", 1647, 0.25)]
D_ARROWS = [(223, 4.58, 223, 4.13), (348, 4.34, 348, 4.14), (1531, 4.31, 1531, 4.20), (1647, 4.33, 1647, 4.17),
            (1045, 3.16, 1045, 3.05), (1369, 3.15, 1369, 3.03),
            (326, 2.31, 326, 2.06), (245, 2.15, 245, 2.06), (1570, 2.31, 1570, 2.19), (1695, 2.27, 1695, 2.18),
            (338, 1.23, 338, 1.09), (650, 1.17, 650, 1.04), (1025, 1.39, 1025, 1.28), (1047, 1.39, 1047, 1.07),
            (1366, 1.33, 1366, 1.22), (1604, 1.26, 1604, 1.15), (1744, 1.29, 1744, 1.18),
            (75, 0.32, 53, 0.15), (143, 0.30, 121, 0.11), (218, 0.24, 164, 0.07),
            (1110, 0.17, 1110, 0.05), (1460, 0.16, 1460, 0.04)]
D_BRACKETS = [(957, 1170, 4.38, 4.21), (1241, 1400, 4.41, 4.28), (1761, 1915, 4.31, 4.21),
              (945, 1098, 2.41, 2.29), (1280, 1357, 2.27, 2.20)]
D_GRAY_BRACKETS = [(1613, 1710, 3.95, 3.99), (1664, 1746, 1.95, 1.98)]
D_GRAY_NOTES = [("2δ", 1664, 3.87), ("2δ", 1712, 1.86)]


# ---------------------------------------------------------------- helpers
def fwd(a):
    return np.interp(np.asarray(a, dtype=float), A_BREAK, U_BREAK)


def inv(u):
    return np.interp(np.asarray(u, dtype=float), U_BREAK, A_BREAK)


def draw_trace(ax, pts, offset, color, **kw):
    f, amp = np.array(pts, dtype=float).T
    ax.plot(f, amp + offset, color=color, zorder=2, **kw)


def draw_band(ax, verts):
    ax.add_patch(Polygon(verts, closed=True, facecolor=BAND, edgecolor='none', zorder=0))


def draw_notes(ax, items, size=13, color='black'):
    for txt, f, y in items:
        ax.text(f, y, txt, ha='center', va='center', fontsize=size, color=color, zorder=4, **GREEK)


def draw_arrows(ax, items):
    for f0, y0, f1, y1 in items:
        ax.annotate('', xy=(f1, y1), xytext=(f0, y0), zorder=4,
                    arrowprops=dict(arrowstyle='-|>', color='black', lw=1.0,
                                    mutation_scale=10, shrinkA=0, shrinkB=0))


def draw_brackets(ax, items, color='black'):
    for f0, f1, ytop, yleg in items:
        ax.plot([f0, f0, f1, f1], [yleg, ytop, ytop, yleg], color=color, lw=1.0, zorder=4)


def style_spec(ax, xmax, ymin, ymax, ystep):
    ax.set_xlim(0, xmax)
    ax.set_ylim(ymin, ymax)
    ax.set_xticks([0, 500, 1000, 1500])
    ax.set_xticks(np.arange(250, xmax, 500), minor=True)
    ax.set_yticks(np.arange(np.ceil(ymin / ystep) * ystep, ymax + 1e-6, ystep))
    ax.set_yticklabels([])
    ax.tick_params(which='both', direction='in', top=True, right=True, labelsize=14.5, pad=6)
    ax.tick_params(which='major', length=5)
    ax.tick_params(which='minor', length=3)
    ax.set_xlabel('$F$ (T)', fontsize=16, labelpad=9)
    for s in ax.spines.values():
        s.set_linewidth(1.2)
        s.set_color('#222222')


fig = plt.figure(figsize=(W / 100, H / 100), dpi=100)

# ================================================================ panel a
ax_a = fig.add_axes([162 / W, 1 - 460 / H, 936 / W, 413 / H])
ax_a.set_xscale('function', functions=(fwd, inv))
ax_a.set_xlim(4.27, 4.4035)
ax_a.set_ylim(0, 80)

bound = list(zip(BOUND_A, BOUND_B))
ax_a.add_patch(Polygon([(4.27, 0), (4.27, 80)] + bound, closed=True, facecolor=YEL_BG,
                       edgecolor='none', zorder=0))
ax_a.add_patch(Polygon(bound + [(ONE_CDW_EDGE, 0), (ONE_CDW_EDGE, 80)], closed=True,
                       facecolor=BLUE_BG, edgecolor='none', zorder=0))
ax_a.axvspan(ONE_CDW_EDGE, 4.4035, color=GREEN_BG, lw=0, zorder=0)
for g0, g1 in GAPS:
    ax_a.axvspan(g0, g1, color='white', lw=0, zorder=0.5)
ax_a.plot(BOUND_A, BOUND_B, color='#a9c8cc', lw=0.8, zorder=1)
ax_a.plot([ONE_CDW_EDGE, ONE_CDW_EDGE], [0, 80], color='#9cc2bd', lw=0.8, zorder=1)

ax_a.plot(BOUND_A[:14], BOUND_B[:14], color='black', lw=2.2, ls=(0, (4.5, 3)), zorder=3)
ax_a.plot(BOUND_A[13:17], BOUND_B[13:17], color='red', lw=2.2, ls=(0, (4.5, 3)), zorder=3)
ax_a.plot(MEAS_STAR_A, MEAS_STAR_B, ls='none', marker='*', ms=21, mfc='white', mec='black',
          mew=2.2, zorder=4)
ax_a.plot(EST_STAR_A, EST_STAR_B, ls='none', marker='*', ms=21, mfc='white', mec='red',
          mew=2.2, zorder=4)

for xs, los, his, col in [(ORANGE_A, ORANGE_LO, ORANGE_HI, ORANGE),
                          (BLUE_A, BLUE_LO, BLUE_HI, BLUE),
                          (GREEN_A, GREEN_LO, GREEN_HI, GREEN)]:
    for a, lo, hi in zip(xs, los, his):
        ax_a.plot([a, a], [lo, hi], '-o', color=col, lw=1.6, ms=5.5, zorder=5)

for txt, a, b in zip(SAMPLE_TXT, SAMPLE_A, SAMPLE_B):
    ax_a.text(a, b, txt, ha='center', va='center', fontsize=16, zorder=6)

ax_a.set_xticks(XTICKS_A)
ax_a.set_xticklabels(XTICKLABELS_A)
ax_a.set_xticks(XMINOR_A, minor=True)
ax_a.set_yticks([0, 20, 40, 60, 80])
ax_a.set_yticks([10, 30, 50, 70], minor=True)
ax_a.tick_params(which='both', direction='in', top=False, right=True, labelsize=15)
ax_a.tick_params(axis='x', pad=7)
ax_a.tick_params(axis='y', pad=7)
ax_a.tick_params(which='major', length=6, width=1.0)
ax_a.tick_params(which='minor', length=3.5, width=1.0)
ax_a.set_xlabel('$a$ (Angstroms)', fontsize=19, labelpad=5)
ax_a.set_ylabel('$B$ (T)', fontsize=18, labelpad=5)
for s in ax_a.spines.values():
    s.set_linewidth(1.3)
    s.set_color('#333333')

ax_top = ax_a.twiny()
ax_top.set_xscale('function', functions=(fwd, inv))
ax_top.set_xlim(ax_a.get_xlim())
ax_top.set_xticks(ELEM_A)
ax_top.set_xticklabels(ELEM_NAMES, fontsize=16.5)
ax_top.set_xticks([], minor=True)
ax_top.tick_params(axis='x', direction='in', length=6, pad=9)
for s in ax_top.spines.values():
    s.set_visible(False)

slash = [(-0.82, -1.0), (0.82, 1.0)]
bt = mtransforms.blended_transform_factory(ax_a.transData, ax_a.transAxes)
for g0, g1 in GAPS:
    for edge in (g0, g1):
        for yy in (0, 1):
            ax_a.plot([edge], [yy], transform=bt, ls='none', marker=slash, ms=14, mec='black',
                      mew=1.0, clip_on=False, zorder=10)

handles = [
    Line2D([], [], color='black', ls=(0, (3, 2)), lw=2.2, marker='*', ms=19, mfc='white', mec='black', mew=2),
    Line2D([], [], color='red', ls=(0, (3, 2)), lw=2.2, marker='*', ms=19, mfc='white', mec='red', mew=2),
    Line2D([], [], color=GREEN, lw=1.6, marker='o', ms=5.5),
    Line2D([], [], color=ORANGE, lw=1.6, marker='o', ms=5.5),
    Line2D([], [], color=BLUE, lw=1.6, marker='o', ms=5.5),
]
labels = [r"$B_0$ (measured 2Δ)", r"$B_0$ (estimated 2Δ)", "One CDW",
          r"Two CDWs,  B < B$_0$", r"Two CDWs,  B > B$_0$"]
leg = ax_a.legend(handles, labels, loc='upper left', bbox_to_anchor=((804 - 162) / 936, (460 - 86) / 413),
                  fontsize=15, frameon=True, fancybox=False, framealpha=1.0, edgecolor='white',
                  borderpad=0.3, borderaxespad=0, labelspacing=0.45, handlelength=2.4,
                  handletextpad=0.6)
leg.set_zorder(20)

fig.text(108 / W, 1 - 18 / H, 'a)', fontsize=19, ha='center', va='center')

# ================================================================ panel b
bot, hgt = 1 - 1286 / H, 685 / H
ax_b = fig.add_axes([48 / W, bot, 412 / W, hgt])
for pts, off in zip(B_TRACES, B_OFFSETS):
    draw_trace(ax_b, pts, off, ORANGE, lw=1.9)
for lab, y in zip(B_LABELS, B_LABEL_Y):
    ax_b.text(1894, y, lab, ha='right', va='center', fontsize=13.5)
style_spec(ax_b, 1990, -(1286 - 1259) / 109, (1259 - 601) / 109, 0.25)
ax_b.set_ylabel('FFT amplitude (arb. u.)', fontsize=16.5, labelpad=4)
ax_b.set_title(r"Two CDWs, $\mathbfit{B}$ < $\mathbfit{B}_\mathbf{0}$", fontsize=16,
               fontweight='bold', pad=7)
fig.text(47 / W, 1 - 577 / H, 'b)', fontsize=19, ha='center', va='center')

# ================================================================ panel c
ax_c = fig.add_axes([488 / W, bot, 375 / W, hgt])
draw_band(ax_c, C_BETA_BAND)
draw_band(ax_c, C_DELTA_BAND)
for pts, off in zip(C_TRACES, C_OFFSETS):
    draw_trace(ax_c, pts, off, BLUE, lw=1.6)
for lab, y in zip(C_LABELS, C_LABEL_Y):
    ax_c.text(1899, y, lab, ha='right', va='center', fontsize=13.5)
draw_notes(ax_c, C_BIG, size=17, color=BLUE)
draw_notes(ax_c, C_NOTES)
draw_arrows(ax_c, C_ARROWS)
draw_brackets(ax_c, C_GRAY_BRACKETS, color=GRAY)
draw_notes(ax_c, C_GRAY_NOTES, size=12, color=GRAY)
style_spec(ax_c, 1995, -(1286 - 1268) / 167, (1268 - 601) / 167, 0.5)
ax_c.set_title(r"Two CDWs, $\mathbfit{B}$ > $\mathbfit{B}_\mathbf{0}$", fontsize=16,
               fontweight='bold', pad=7)
fig.text(484 / W, 1 - 578 / H, 'c)', fontsize=19, ha='center', va='center')

# ================================================================ panel d
ax_d = fig.add_axes([888 / W, bot, 394 / W, hgt])
draw_band(ax_d, D_ALPHA_BAND)
draw_band(ax_d, D_BETA_BAND)
draw_band(ax_d, D_DELTA_BAND)
for pts, off in zip(D_SOLID, D_SOLID_OFFSETS):
    draw_trace(ax_d, pts, off, GREEN, lw=1.5)
draw_trace(ax_d, ND_DOT_D, 1, GREEN, lw=1.6, ls=(0, (1, 1.2)))
for lab, f, y in D_LABELS:
    ax_d.text(f, y, lab, ha='right', va='center', fontsize=13.5)
draw_notes(ax_d, D_BIG, size=17, color=GREEN)
draw_notes(ax_d, D_NOTES)
draw_arrows(ax_d, D_ARROWS)
draw_brackets(ax_d, D_BRACKETS)
draw_brackets(ax_d, D_GRAY_BRACKETS, color=GRAY)
draw_notes(ax_d, D_GRAY_NOTES, size=12, color=GRAY)
style_spec(ax_d, 2015, -(1286 - 1271.5) / 134, (1271.5 - 601) / 134, 0.5)
ax_d.set_title("One CDW only", fontsize=16, fontweight='bold', pad=7)
fig.text(889 / W, 1 - 578 / H, 'd)', fontsize=19, ha='center', va='center')

fig.savefig('out.png', dpi=100)
